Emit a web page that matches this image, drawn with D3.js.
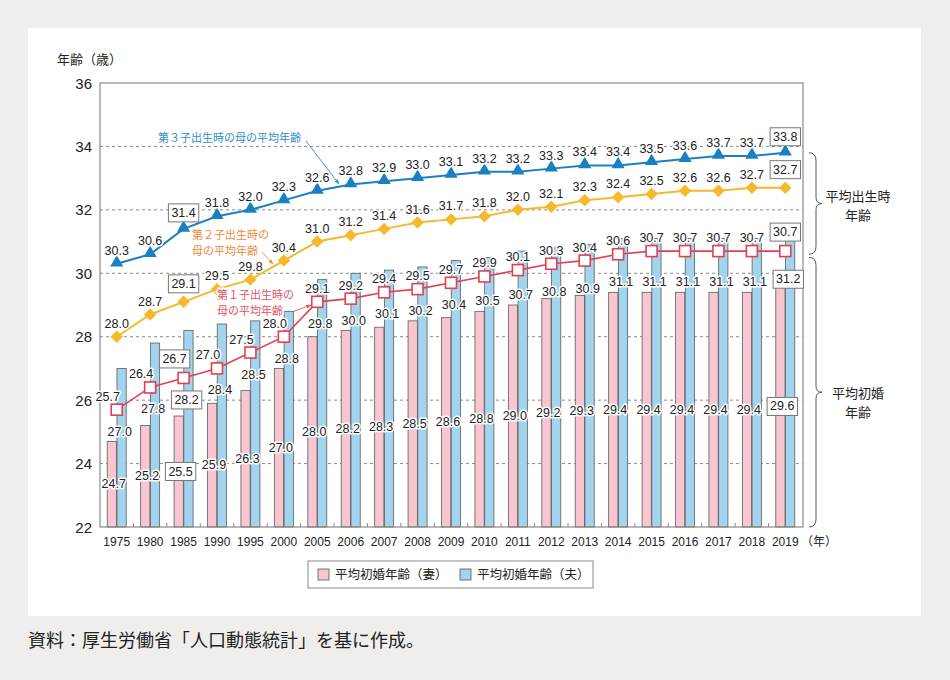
<!DOCTYPE html>
<html>
<head>
<meta charset="utf-8">
<script src="https://cdn.jsdelivr.net/npm/d3@7"></script>
<style>
  body { margin: 0; background: #efeeec; }
  svg text { font-family: "Liberation Sans", "Noto Sans CJK JP", sans-serif; }
  .jp { font-family: "Noto Sans CJK JP", sans-serif; }
</style>
</head>
<body>
<div id="chart"></div>
<script>
// years on the x axis
var years = ["1975","1980","1985","1990","1995","2000","2005","2006","2007","2008","2009",
             "2010","2011","2012","2013","2014","2015","2016","2017","2018","2019"];

// average age at first marriage
var wifeAge    = [24.7,25.2,25.5,25.9,26.3,27.0,28.0,28.2,28.3,28.5,28.6,28.8,29.0,29.2,29.3,29.4,29.4,29.4,29.4,29.4,29.6];
var husbandAge = [27.0,27.8,28.2,28.4,28.5,28.8,29.8,30.0,30.1,30.2,30.4,30.5,30.7,30.8,30.9,31.1,31.1,31.1,31.1,31.1,31.2];

// mother's average age at birth of 1st, 2nd, 3rd child
var firstChild  = [25.7,26.4,26.7,27.0,27.5,28.0,29.1,29.2,29.4,29.5,29.7,29.9,30.1,30.3,30.4,30.6,30.7,30.7,30.7,30.7,30.7];
var secondChild = [28.0,28.7,29.1,29.5,29.8,30.4,31.0,31.2,31.4,31.6,31.7,31.8,32.0,32.1,32.3,32.4,32.5,32.6,32.6,32.7,32.7];
var thirdChild  = [30.3,30.6,31.4,31.8,32.0,32.3,32.6,32.8,32.9,33.0,33.1,33.2,33.2,33.3,33.4,33.4,33.5,33.6,33.7,33.7,33.8];

var yTicks = [22,24,26,28,30,32,34,36];
var boxedYears = ["1985","2019"];

var W = 950, H = 680;
var plot = {left: 100, right: 802, top: 83, bottom: 527};

var svg = d3.select('#chart').append('svg')
    .attr('width', W).attr('height', H);

// white panel
svg.append('rect').attr('x',28).attr('y',28).attr('width',893).attr('height',588)
   .attr('fill','#fff');

var x = d3.scaleBand().domain(years).range([plot.left, plot.right]);
var xs = d3.scaleBand().domain(['wife','husband'])
    .range([x.bandwidth()/2 - 9.5, x.bandwidth()/2 + 9.5]).paddingInner(0.05);
var y = d3.scaleLinear().domain([22,36]).range([plot.bottom, plot.top]);
var cx = function(i){ return x(years[i]) + x.bandwidth()/2; };

// dashed grid
svg.append('g').selectAll('line').data(yTicks.slice(1,-1)).enter().append('line')
   .attr('x1',plot.left).attr('x2',plot.right+1)
   .attr('y1',function(d){return y(d);}).attr('y2',function(d){return y(d);})
   .attr('stroke','#8a8a8a').attr('stroke-dasharray','3,3');

// y tick labels
svg.append('g').selectAll('text').data(yTicks).enter().append('text')
   .attr('x',92).attr('y',function(d){return y(d);})
   .attr('text-anchor','end').attr('dominant-baseline','central')
   .attr('font-size',15).attr('fill','#222').text(function(d){return d;});

svg.append('text').attr('class','jp').attr('x',57).attr('y',64)
   .attr('font-size',13).attr('fill','#222').text('年齢（歳）');

// bars
var bars = svg.append('g');
years.forEach(function(yr,i){
  bars.append('rect').attr('x',x(yr)+xs('wife')).attr('width',xs.bandwidth())
      .attr('y',y(wifeAge[i])).attr('height',y(22)-y(wifeAge[i]))
      .attr('fill','#f7c6d0').attr('stroke','#5c5c5c').attr('stroke-width',0.8);
  bars.append('rect').attr('x',x(yr)+xs('husband')).attr('width',xs.bandwidth())
      .attr('y',y(husbandAge[i])).attr('height',y(22)-y(husbandAge[i]))
      .attr('fill','#a3d4ee').attr('stroke','#5c5c5c').attr('stroke-width',0.8);
});

// frame + small ticks between groups
svg.append('rect').attr('x',plot.left).attr('y',plot.top)
   .attr('width',plot.right-plot.left+1).attr('height',plot.bottom-plot.top)
   .attr('fill','none').attr('stroke','#8a8a8a').attr('stroke-width',1.2);
svg.append('g').selectAll('line').data(years.slice(1)).enter().append('line')
   .attr('x1',function(d){return x(d);}).attr('x2',function(d){return x(d);})
   .attr('y1',plot.bottom).attr('y2',plot.bottom-4).attr('stroke','#8a8a8a');

// x tick labels
svg.append('g').selectAll('text').data(years).enter().append('text')
   .attr('x',function(d){return x(d)+x.bandwidth()/2;}).attr('y',546)
   .attr('text-anchor','middle').attr('font-size',12).attr('fill','#222')
   .text(function(d){return d;});
svg.append('text').attr('class','jp').attr('x',801).attr('y',546)
   .attr('font-size',12).attr('fill','#222').text('（年）');

// lines + markers
var line = function(vals){
  return d3.line().x(function(d,i){return cx(i);}).y(function(d){return y(d);})(vals);
};
var blue = '#1b80c2', gold = '#f6b82c', red = '#e3404f';

svg.append('path').attr('d',line(thirdChild)).attr('fill','none').attr('stroke',blue).attr('stroke-width',2);
svg.append('path').attr('d',line(secondChild)).attr('fill','none').attr('stroke',gold).attr('stroke-width',2);
svg.append('path').attr('d',line(firstChild)).attr('fill','none').attr('stroke',red).attr('stroke-width',1.6);

svg.append('g').selectAll('path').data(thirdChild).enter().append('path')
   .attr('d',d3.symbol().type(d3.symbolTriangle).size(75))
   .attr('transform',function(d,i){return 'translate('+cx(i)+','+(y(d)-1)+')';})
   .attr('fill',blue);
svg.append('g').selectAll('path').data(secondChild).enter().append('path')
   .attr('d',d3.symbol().type(d3.symbolSquare).size(78))
   .attr('transform',function(d,i){return 'translate('+cx(i)+','+y(d)+') rotate(45)';})
   .attr('fill',gold);
svg.append('g').selectAll('rect').data(firstChild).enter().append('rect')
   .attr('x',function(d,i){return cx(i)-5.5;}).attr('y',function(d){return y(d)-5.5;})
   .attr('width',11).attr('height',11)
   .attr('fill','#fff').attr('stroke',red).attr('stroke-width',1.6);

// value labels
var labels = svg.append('g');
function label(px, py, v, yr){
  var t = labels.append('text').attr('x',px).attr('y',py)
     .attr('text-anchor','middle').attr('dominant-baseline','central')
     .attr('font-size',12.5).attr('fill','#222')
     .attr('stroke','#fff').attr('stroke-width',3).attr('paint-order','stroke')
     .attr('stroke-linejoin','round')
     .text(v.toFixed(1));
  if (boxedYears.indexOf(yr) >= 0) {
    var b = t.node().getBBox();
    labels.insert('rect', function(){ return t.node(); })
      .attr('x',b.x-3).attr('y',py-9).attr('width',b.width+6).attr('height',18)
      .attr('fill','#fff').attr('stroke','#777').attr('stroke-width',1);
  }
}
years.forEach(function(yr,i){
  var boxed = boxedYears.indexOf(yr) >= 0;
  label(cx(i), y(thirdChild[i]) - (boxed ? 16 : 13), thirdChild[i], yr);
  label(cx(i), y(secondChild[i]) - (boxed ? 18 : 13), secondChild[i], yr);
  label(cx(i) + (i < 6 ? -9 : 0), y(firstChild[i]) - (boxed ? 19 : 13), firstChild[i], yr);
  label(cx(i) + 3, Math.max(y(firstChild[i]) + 22, y(husbandAge[i]) + 44), husbandAge[i], yr);
  label(cx(i) - 3, (y(wifeAge[i]) + y(22)) / 2, wifeAge[i], yr);
});

// multi-line text as one element
function multiText(lines, tx, ty, size, gap, anchor, color){
  var t = svg.append('text').attr('class','jp').attr('x',tx).attr('y',ty)
     .attr('font-size',size).attr('fill',color).attr('text-anchor',anchor)
     .attr('stroke','#fff').attr('stroke-width',3).attr('paint-order','stroke');
  lines.forEach(function(s,k){
    t.append('tspan').attr('x',tx).attr('dy',k ? gap : 0).text(s);
  });
  return t;
}

// annotations
var defs = svg.append('defs');
[['arB','#2a8fc9'],['arO','#ee8a3a'],['arR','#e8505e']].forEach(function(a){
  defs.append('marker').attr('id',a[0]).attr('viewBox','0 0 10 10').attr('refX',9).attr('refY',5)
    .attr('markerWidth',6).attr('markerHeight',6).attr('orient','auto')
    .append('path').attr('d','M0,1.5 L10,5 L0,8.5 Z').attr('fill',a[1]);
});
function note(lines, tx, ty, color, arrow, mid){
  multiText(lines, tx, ty, 11, 16, 'start', color);
  svg.append('line').attr('x1',arrow[0]).attr('y1',arrow[1]).attr('x2',arrow[2]).attr('y2',arrow[3])
     .attr('stroke',color).attr('stroke-width',0.9).attr('marker-end','url(#'+mid+')');
}
note(['第３子出生時の母の平均年齢'], 158, 142, '#2a8fc9', [306,141,339,184], 'arB');
note(['第２子出生時の','母の平均年齢'], 192, 239, '#ee8a3a', [262,252,273,264], 'arO');
note(['第１子出生時の','母の平均年齢'], 217, 299, '#e8505e', [292,312,311,305], 'arR');

// braces on the right
function brace(y0, y1, x0){
  var m = (y0+y1)/2, w = 7;
  return 'M'+x0+','+y0+' Q'+(x0+w)+','+y0+' '+(x0+w)+','+(y0+8)+
         ' L'+(x0+w)+','+(m-6)+' Q'+(x0+w)+','+m+' '+(x0+w+6)+','+m+
         ' Q'+(x0+w)+','+m+' '+(x0+w)+','+(m+6)+
         ' L'+(x0+w)+','+(y1-8)+' Q'+(x0+w)+','+y1+' '+x0+','+y1;
}
svg.append('path').attr('d',brace(y(33.8), y(30.6), 809)).attr('fill','none').attr('stroke','#555').attr('stroke-width',1);
svg.append('path').attr('d',brace(y(30.5), y(22), 809)).attr('fill','none').attr('stroke','#555').attr('stroke-width',1);
multiText(['平均出生時','年齢'], 858, 201, 13, 19, 'middle', '#222');
multiText(['平均初婚','年齢'], 858, 398, 13, 19, 'middle', '#222');

// legend
var lg = svg.append('g');
lg.append('rect').attr('x',308).attr('y',561).attr('width',285).attr('height',27)
  .attr('fill','#fff').attr('stroke','#888');
[['#f7c6d0','平均初婚年齢（妻）',318],['#a3d4ee','平均初婚年齢（夫）',460]].forEach(function(d){
  lg.append('rect').attr('x',d[2]).attr('y',569).attr('width',11).attr('height',11)
    .attr('fill',d[0]).attr('stroke','#555').attr('stroke-width',0.8);
  lg.append('text').attr('class','jp').attr('x',d[2]+17).attr('y',579)
    .attr('font-size',12.5).attr('fill','#222').text(d[1]);
});

// source
svg.append('text').attr('class','jp').attr('x',28).attr('y',647)
   .attr('font-size',18).attr('fill','#222').text('資料：厚生労働省「人口動態統計」を基に作成。');
</script>
</body>
</html>
